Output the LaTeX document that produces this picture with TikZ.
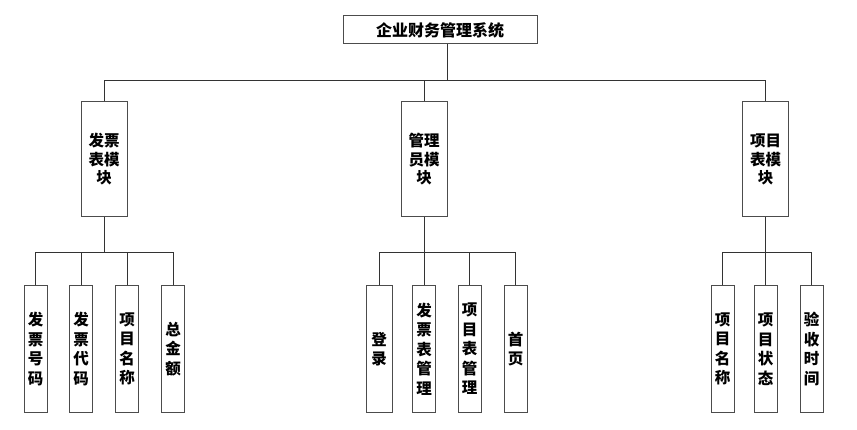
\documentclass[tikz,border=0pt]{standalone}
\usepackage{fontspec}
\newfontfamily\cjk{Noto Sans CJK SC}
\usetikzlibrary{positioning}

\tikzset{
  box/.style={draw=black!70, line width=1pt, fill=white, inner sep=0pt, align=center},
  sysbox/.style={box, minimum width=194pt, minimum height=28pt, font=\cjk\bfseries\fontsize{16}{17}\selectfont},
  modbox/.style={box, minimum width=46pt, minimum height=115pt, font=\cjk\bfseries\fontsize{15.5}{18.5}\selectfont},
  leafbox/.style={box, minimum width=23pt, minimum height=126pt, font=\cjk\bfseries\fontsize{15.5}{19.5}\selectfont},
  link/.style={draw=black!80, line width=0.9pt}
}

\begin{document}
\begin{tikzpicture}[x=1pt,y=-1pt]
\useasboundingbox (0,0) rectangle (857,430);

% top
\node[sysbox] (sys) at (440,30) {企业财务管理系统};
\coordinate (bus) at (447,80);

% modules
\node[modbox] (fp) at (104,159.5) {发票\\表模\\块};
\node[modbox] (gl) at (424,159.5) {管理\\员模\\块};
\node[modbox] (xm) at (765.5,159.5) {项目\\表模\\块};

% leaves of fp
\node[leafbox] (fp1) at (35.5,349) {发\\票\\号\\码};
\node[leafbox] (fp2) at (81,349) {发\\票\\代\\码};
\node[leafbox] (fp3) at (127,349) {项\\目\\名\\称};
\node[leafbox] (fp4) at (173,349) {总\\金\\额};

% leaves of gl
\node[leafbox, minimum width=26pt] (gl1) at (379,349) {登\\录};
\node[leafbox] (gl2) at (424,349) {发\\票\\表\\管\\理};
\node[leafbox] (gl3) at (469.5,349) {项\\目\\表\\管\\理};
\node[leafbox] (gl4) at (515.5,349) {首\\页};

% leaves of xm
\node[leafbox] (xm1) at (722.5,349) {项\\目\\名\\称};
\node[leafbox] (xm2) at (765.5,349) {项\\目\\状\\态};
\node[leafbox] (xm3) at (811.5,349) {验\\收\\时\\间};

% connectors
\draw[link] (sys.south -| bus) -- (bus);
\foreach \m in {fp,gl,xm}
  \draw[link] (\m.north) |- (bus);

\foreach \m/\leaves in {fp/{fp1,fp2,fp3,fp4}, gl/{gl1,gl2,gl3,gl4}, xm/{xm1,xm2,xm3}} {
  \draw[link] (\m.south) -- ++(0,35) coordinate (\m bus);
  \foreach \l in \leaves
    \draw[link] (\l.north) |- (\m bus);
}
\end{tikzpicture}
\end{document}
